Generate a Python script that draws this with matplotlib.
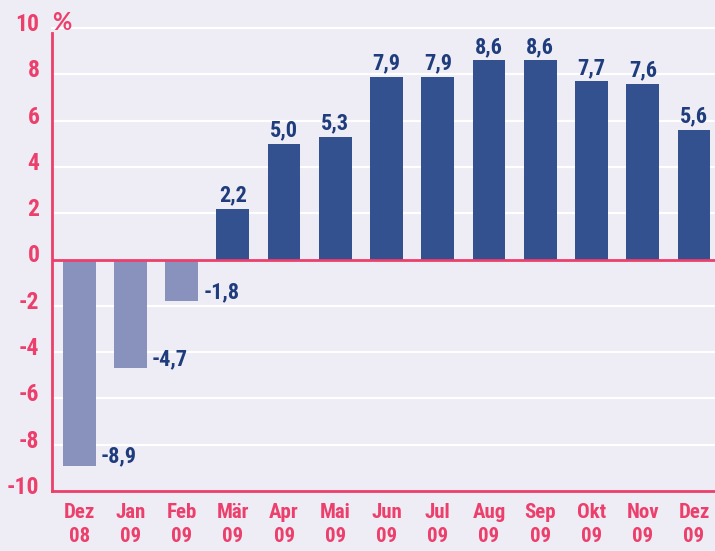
import matplotlib.pyplot as plt
import matplotlib.transforms as mtransforms
import numpy as np

# data
months = ['Dez\n08', 'Jan\n09', 'Feb\n09', 'Mär\n09', 'Apr\n09', 'Mai\n09', 'Jun\n09',
          'Jul\n09', 'Aug\n09', 'Sep\n09', 'Okt\n09', 'Nov\n09', 'Dez\n09']
values = [-8.9, -4.7, -1.8, 2.2, 5.0, 5.3, 7.9, 7.9, 8.6, 8.6, 7.7, 7.6, 5.6]
y_ticks = [-10, -8, -6, -4, -2, 0, 2, 4, 6, 8, 10]

pink = '#ec3f6b'
dark_blue = '#33508f'
light_blue = '#8892bd'
label_blue = '#1f3c7d'
bg = '#eeedf5'

plt.rcParams['font.family'] = ['Roboto Condensed', 'Lato', 'DejaVu Sans']

fig = plt.figure(figsize=(7.15, 5.51), dpi=100, facecolor=bg)
ax = fig.add_axes([52 / 715, 60 / 551, 1 - 52 / 715, (491 - 28) / 551])
ax.set_facecolor(bg)

x = np.arange(len(values))
colors = [light_blue if v < 0 else dark_blue for v in values]
ax.bar(x, values, width=0.64, color=colors, zorder=3)

for xi, v in zip(x, values):
    txt = f'{v:.1f}'.replace('.', ',')
    if v < 0:
        ax.text(xi + 0.42, v + 0.4, txt, ha='left', va='center', color=label_blue,
                fontsize=16, fontweight='bold', zorder=4)
    else:
        ax.text(xi, v + 0.1, txt, ha='center', va='bottom', color=label_blue,
                fontsize=16, fontweight='bold', zorder=4)

ax.set_xlim(-0.53, len(values) - 0.59)
ax.set_ylim(-10, 10)
ax.set_yticks(y_ticks)
ax.set_yticklabels([str(t) for t in y_ticks])
ax.set_xticks(x)
ax.set_xticklabels(months, linespacing=1.3)

for t in y_ticks:
    if t not in (-10, 0):
        ax.axhline(t, color='white', lw=1.6, zorder=1, clip_on=False)
ax.axhline(0, color=pink, lw=2, zorder=5)

shift = mtransforms.ScaledTranslation(0, 6 / 100, fig.dpi_scale_trans)
ax.text(-0.53, 10, '%', ha='left', va='center', color=pink, fontsize=17,
        fontweight='bold', family='Lato', clip_on=False,
        transform=ax.transData + shift)

for s in ['top', 'right']:
    ax.spines[s].set_visible(False)
ax.spines['left'].set_color(pink)
ax.spines['left'].set_linewidth(2)
ax.spines['left'].set_bounds(-10, 9.8)
ax.spines['bottom'].set_color(pink)
ax.spines['bottom'].set_linewidth(2)

ax.tick_params(axis='y', length=0, pad=9, labelcolor=pink, labelsize=17)
ax.tick_params(axis='x', length=0, pad=9, labelcolor=pink, labelsize=15)
for lbl in ax.get_yticklabels():
    lbl.set_fontweight('bold')
    lbl.set_transform(lbl.get_transform() + shift)
for lbl in ax.get_xticklabels():
    lbl.set_fontweight('bold')

plt.savefig('out.png', dpi=100, facecolor=bg)
